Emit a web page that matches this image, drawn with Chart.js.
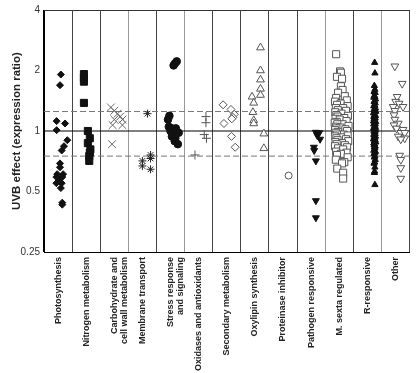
<!DOCTYPE html>
<html>
<head>
<meta charset="utf-8">
<script src="https://cdn.jsdelivr.net/npm/chart.js@4"></script>
<style>
  html, body { margin: 0; padding: 0; background: #fff; }
  #wrap { width: 416px; height: 373px; }
</style>
</head>
<body>
<div id="wrap"><canvas id="uvbChart" width="416" height="373"></canvas></div>
<script>
// Categories along the x axis
const categories = [
    'Photosynthesis',
    'Nitrogen metabolism',
    ['Carbohydrate and', 'cell wall metabolism'],
    'Membrane transport',
    ['Stress response', 'and signaling'],
    'Oxidases and antioxidants',
    'Secondary metabolism',
    'Oxylipin synthesis',
    'Proteinase inhibitor',
    'Pathogen responsive',
    'M. sexta regulated',
    'R-responsive',
    'Other'
];

const yTicks = [0.25, 0.5, 1, 2, 4];
const unityLine = 1;
const dashedLines = [1.25, 0.75];

// expression ratios per category, and horizontal jitter inside the column
const photoVals = [1.91, 1.69, 1.12, 1.09, 1.01, 0.90, 0.84, 0.80, 0.69, 0.66, 0.61, 0.61, 0.59, 0.59, 0.57, 0.55, 0.55, 0.52, 0.44, 0.43];
const photoDx = [0.1, 0.07, -0.05, 0.25, -0.05, 0.33, 0.21, 0.13, 0.07, 0.07, -0.03, 0.18, -0.06, 0.15, 0.04, -0.06, 0.13, 0.1, 0.15, 0.15];

const nitroVals = [1.92, 1.84, 1.76, 1.38, 1.0, 0.92, 0.87, 0.81, 0.78, 0.75, 0.71];
const nitroDx = [-0.08, -0.08, -0.08, -0.08, 0.06, 0.13, 0.06, 0.15, 0.13, 0.11, 0.11];

const carbVals = [1.31, 1.26, 1.22, 1.18, 1.14, 1.14, 1.07, 1.07, 0.86];
const carbDx = [-0.12, 0, 0.12, 0.21, 0, 0.29, -0.06, 0.29, -0.08];

const membVals = [1.22, 0.76, 0.73, 0.71, 0.67, 0.645];
const membDx = [0.18, 0.29, 0.29, 0, 0, 0.29];

const stressVals = [2.12, 2.17, 2.22, 1.19, 1.14, 1.05, 1.03, 1.03, 1.0, 0.985, 0.98, 0.94, 0.92, 0.89, 0.86];
const stressDx = [0.11, 0.16, 0.22, -0.04, -0.09, -0.06, 0.05, 0.19, 0, 0.15, 0.29, 0.05, 0.17, 0.15, 0.26];

const oxidVals = [1.18, 1.10, 0.96, 0.92, 0.76];
const oxidDx = [0.26, 0.26, 0.2, 0.28, -0.13];

const secVals = [1.35, 1.28, 1.21, 1.17, 1.15, 1.09, 0.94, 0.83];
const secDx = [-0.13, 0.15, 0.27, 0.22, 0.18, -0.1, 0.17, 0.3];

const oxyVals = [2.6, 2.0, 1.8, 1.62, 1.51, 1.48, 1.38, 1.24, 1.13, 1.09, 0.97, 0.82];
const oxyDx = [0.2, 0.2, 0.2, 0.2, 0.2, -0.1, -0.04, -0.07, -0.04, -0.04, 0.32, 0.32];

const protVals = [0.6];
const protDx = [0.2];

const pathVals = [0.985, 0.98, 0.95, 0.91, 0.83, 0.80, 0.71, 0.45, 0.37];
const pathDx = [0.17, 0.29, 0.22, 0.32, 0.1, 0.11, 0.17, 0.17, 0.17];

const msextaVals = [2.41, 1.98, 1.95, 1.86, 1.82, 1.67, 1.60, 1.55, 1.49, 1.46,
    1.42, 1.40, 1.37, 1.35, 1.33, 1.30, 1.30, 1.27, 1.26, 1.24,
    1.22, 1.20, 1.19, 1.18, 1.16, 1.15, 1.14, 1.12, 1.11, 1.10,
    1.08, 1.08, 1.06, 1.05, 1.04, 1.03, 1.02, 1.01, 1.00, 0.99,
    0.98, 0.96, 0.96, 0.95, 0.94, 0.93, 0.92, 0.91, 0.90, 0.89,
    0.88, 0.87, 0.86, 0.85, 0.84, 0.83, 0.82, 0.81, 0.79, 0.78,
    0.77, 0.76, 0.74, 0.72, 0.70, 0.69, 0.65, 0.62, 0.58];
const msextaDx = [-0.11, 0.03, 0.06, -0.08, 0.10, 0.06, 0.12, -0.04, 0.20, -0.11,
    0.27, -0.15, 0.05, -0.08, 0.30, -0.12, 0.14, -0.05, 0.24, -0.14,
    0.08, -0.10, 0.31, -0.06, 0.18, -0.13, 0.02, 0.26, -0.09, -0.16,
    0.12, -0.07, 0.33, -0.12, 0.04, -0.10, 0.22, -0.15, 0.28, -0.05,
    -0.12, 0.16, -0.08, 0.30, -0.14, 0.07, -0.10, 0.24, -0.06, 0.32,
    -0.13, 0.10, -0.09, 0.20, -0.15, 0.28, -0.04, 0.14, -0.11, 0.26,
    0.06, -0.08, 0.30, -0.12, 0.18, 0.10, -0.07, 0.14, 0.14];

const rrespVals = [2.19, 1.94, 1.68, 1.61, 1.57, 1.55, 1.50, 1.48, 1.47, 1.44,
    1.41, 1.40, 1.38, 1.35, 1.34, 1.33, 1.30, 1.29, 1.28, 1.26,
    1.25, 1.25, 1.23, 1.21, 1.20, 1.19, 1.18, 1.16, 1.16, 1.15,
    1.13, 1.12, 1.11, 1.10, 1.09, 1.08, 1.08, 1.06, 1.05, 1.04,
    1.03, 1.02, 1.01, 1.00, 0.99, 0.99, 0.97, 0.96, 0.95, 0.94,
    0.93, 0.92, 0.91, 0.90, 0.89, 0.88, 0.87, 0.86, 0.85, 0.84,
    0.83, 0.82, 0.80, 0.79, 0.78, 0.77, 0.75, 0.74, 0.72, 0.70,
    0.69, 0.66, 0.63, 0.62, 0.54];
const rrespDx = [0.26, 0.27, 0.25, 0.27, 0.24, 0.28, 0.25, 0.27, 0.23, 0.29,
    0.26, 0.24, 0.28, 0.25, 0.27, 0.23, 0.29, 0.26, 0.24, 0.28,
    0.25, 0.30, 0.22, 0.27, 0.26, 0.29, 0.23, 0.25, 0.28, 0.24,
    0.27, 0.22, 0.30, 0.26, 0.24, 0.28, 0.23, 0.27, 0.25, 0.29,
    0.22, 0.26, 0.30, 0.24, 0.27, 0.25, 0.28, 0.23, 0.26, 0.29,
    0.24, 0.27, 0.22, 0.28, 0.25, 0.30, 0.23, 0.26, 0.24, 0.28,
    0.25, 0.27, 0.23, 0.29, 0.26, 0.24, 0.27, 0.25, 0.28, 0.26,
    0.24, 0.27, 0.26, 0.25, 0.27];

const otherVals = [2.10, 1.72, 1.48, 1.40, 1.37, 1.32, 1.32, 1.26, 1.20, 1.14, 1.09, 1.07, 1.03, 1.015, 0.98, 0.98, 0.94, 0.92, 0.91, 0.755, 0.72, 0.655, 0.58];
const otherDx = [-0.02, 0.24, 0.06, 0.01, 0.13, 0.27, -0.08, -0.02, -0.05, -0.02, 0.1, -0.05, 0.04, 0.27, 0.19, 0.33, 0.1, 0.33, 0.19, 0.15, 0.19, 0.19, 0.19];

// grid line shades between columns (left axis ... right edge)
const gridShades = ['#000', '#444', '#444', '#999', '#444', '#999', '#444', '#444', '#444', '#444', '#999', '#444', '#999', '#444'];

function toPoints(index, vals, dx) {
    return vals.map(function(v, i) {
        return { x: index + dx[i], y: v };
    });
}

function markerSet(index, vals, dx, style) {
    return Object.assign({
        type: 'scatter',
        data: toPoints(index, vals, dx),
        xAxisID: 'x2',
        borderWidth: 1,
        order: 1
    }, style);
}

function refLine(value, dashed) {
    return {
        type: 'line',
        data: [{ x: -0.5, y: value }, { x: categories.length - 0.5, y: value }],
        xAxisID: 'x2',
        borderColor: dashed ? '#777' : '#000',
        borderWidth: 1,
        borderDash: dashed ? [6, 3] : [],
        pointRadius: 0,
        fill: false,
        order: 100
    };
}

const filled = { backgroundColor: '#111', borderColor: '#111' };
const openMark = { backgroundColor: '#fff', borderColor: '#555' };

const datasets = [
    refLine(unityLine, false),
    refLine(dashedLines[0], true),
    refLine(dashedLines[1], true),
    markerSet(0, photoVals, photoDx, Object.assign({ pointStyle: 'rectRot', pointRadius: 3.5 }, filled)),
    markerSet(1, nitroVals, nitroDx, Object.assign({ pointStyle: 'rect', pointRadius: 5 }, filled)),
    markerSet(2, carbVals, carbDx, { pointStyle: 'crossRot', pointRadius: 5.5, borderColor: '#666', backgroundColor: '#666' }),
    markerSet(3, membVals, membDx, { pointStyle: 'star', pointRadius: 4, borderColor: '#222', backgroundColor: '#222' }),
    markerSet(4, stressVals, stressDx, Object.assign({ pointStyle: 'circle', pointRadius: 3.8 }, filled)),
    markerSet(5, oxidVals, oxidDx, { pointStyle: 'cross', pointRadius: 4.5, borderColor: '#555', backgroundColor: '#555' }),
    markerSet(6, secVals, secDx, Object.assign({ pointStyle: 'rectRot', pointRadius: 4 }, openMark)),
    markerSet(7, oxyVals, oxyDx, Object.assign({ pointStyle: 'triangle', pointRadius: 4.5 }, openMark)),
    markerSet(8, protVals, protDx, Object.assign({ pointStyle: 'circle', pointRadius: 3.5 }, openMark)),
    markerSet(9, pathVals, pathDx, Object.assign({ pointStyle: 'triangle', pointRadius: 4, rotation: 180 }, filled)),
    markerSet(10, msextaVals, msextaDx, Object.assign({ pointStyle: 'rect', pointRadius: 5 }, openMark)),
    markerSet(11, rrespVals, rrespDx, Object.assign({ pointStyle: 'triangle', pointRadius: 3.6 }, filled)),
    markerSet(12, otherVals, otherDx, Object.assign({ pointStyle: 'triangle', pointRadius: 4.5, rotation: 180 }, openMark))
];

// box line along the top of the plot
const frameLine = {
    id: 'frameLine',
    afterDatasetsDraw: function(chart) {
        const a = chart.chartArea;
        const ctx = chart.ctx;
        ctx.save();
        ctx.strokeStyle = '#333';
        ctx.lineWidth = 1;
        ctx.beginPath();
        ctx.moveTo(a.left, a.top + 0.5);
        ctx.lineTo(a.right, a.top + 0.5);
        ctx.stroke();
        ctx.restore();
    }
};

new Chart(document.getElementById('uvbChart').getContext('2d'), {
    data: { labels: categories, datasets: datasets },
    options: {
        responsive: false,
        animation: false,
        layout: { padding: { top: 5, right: 3, left: 0, bottom: 0 } },
        plugins: {
            legend: { display: false },
            tooltip: { enabled: false }
        },
        scales: {
            x: {
                type: 'category',
                offset: true,
                grid: {
                    offset: true,
                    drawTicks: false,
                    color: function(c) { return gridShades[c.index] || '#444'; }
                },
                border: { display: true, color: '#000' },
                ticks: {
                    autoSkip: false,
                    minRotation: 90,
                    maxRotation: 90,
                    padding: 5,
                    color: '#222',
                    font: { family: 'Liberation Sans, Arial, sans-serif', size: 9, weight: 'bold', lineHeight: 1.15 }
                },
                afterFit: function(scale) { scale.height = 121; }
            },
            x2: {
                type: 'linear',
                display: false,
                min: -0.5,
                max: categories.length - 0.5
            },
            y: {
                type: 'logarithmic',
                min: yTicks[0],
                max: yTicks[yTicks.length - 1],
                afterBuildTicks: function(scale) {
                    scale.ticks = yTicks.map(function(v) { return { value: v }; });
                },
                grid: { display: false, drawTicks: false, tickLength: 0 },
                border: { display: true, color: '#000' },
                ticks: {
                    padding: 4,
                    color: '#333',
                    font: { family: 'Liberation Sans, Arial, sans-serif', size: 10 },
                    callback: function(value) { return String(value); }
                },
                title: {
                    display: true,
                    text: 'UVB effect (expression ratio)',
                    color: '#222',
                    padding: { top: 10, bottom: 0 },
                    font: { family: 'Liberation Sans, Arial, sans-serif', size: 11.5, weight: 'bold' }
                },
                afterFit: function(scale) { scale.width = 44; }
            }
        }
    },
    plugins: [frameLine]
});
</script>
</body>
</html>
